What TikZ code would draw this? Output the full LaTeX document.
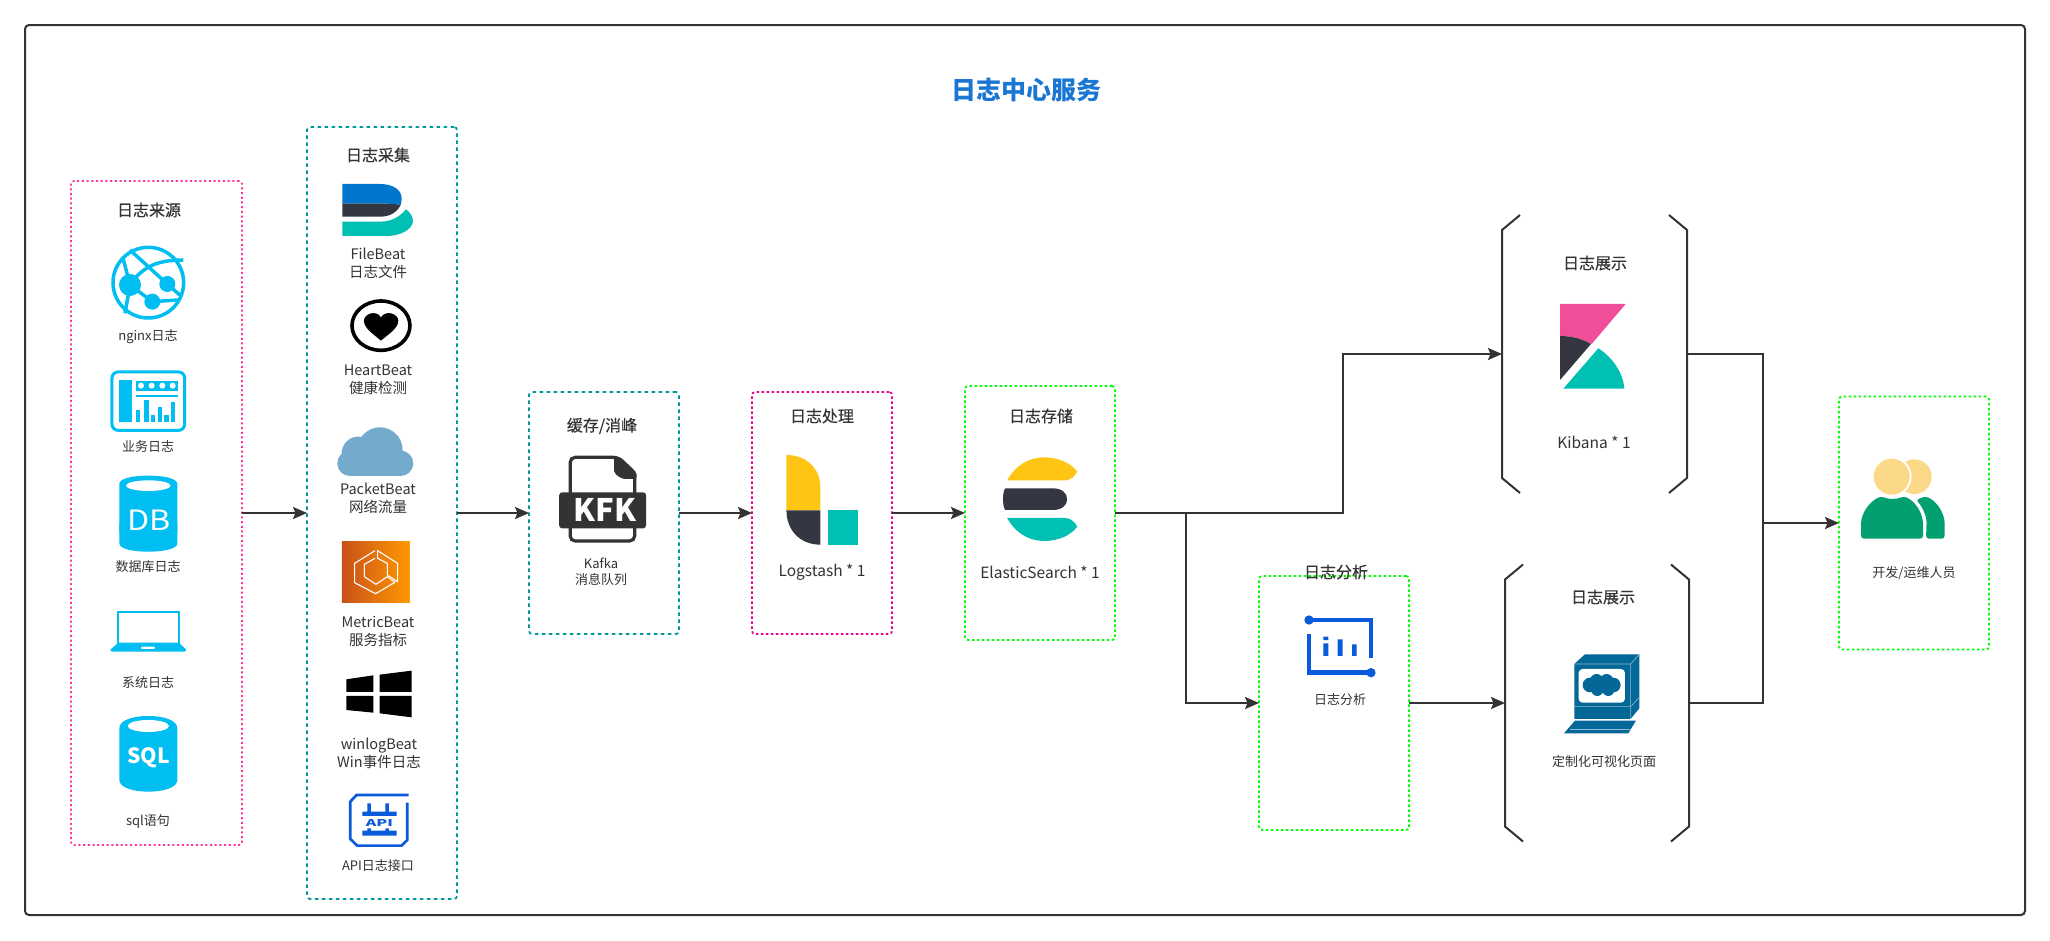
\documentclass[tikz,border=0pt]{standalone}
\usepackage{fontspec}
\setmainfont{Noto Sans CJK SC}
\newfontfamily\headfont[FakeBold=0.35]{Noto Sans CJK SC}
\usepackage{tikz}
\usetikzlibrary{arrows.meta,calc,positioning}
\definecolor{inkgray}{HTML}{333333}
\definecolor{skycyan}{HTML}{00BEF2}
\definecolor{elasticblue}{HTML}{0077CC}
\definecolor{elasticdark}{HTML}{343741}
\definecolor{elasticteal}{HTML}{00BFB3}
\definecolor{elasticyellow}{HTML}{FEC514}
\definecolor{kibanapink}{HTML}{F04E98}
\definecolor{iconblue}{HTML}{0A5BDB}
\definecolor{monitorblue}{HTML}{036897}
\definecolor{userskin}{HTML}{FBD989}
\definecolor{usergreen}{HTML}{029F70}
\definecolor{titleblue}{HTML}{1976D2}
\definecolor{pinkdot}{HTML}{FF3399}
\definecolor{tealdot}{HTML}{009999}
\definecolor{packetblue}{HTML}{74AACC}
\definecolor{metricdark}{HTML}{C8511B}
\definecolor{metriclight}{HTML}{FF9900}

\begin{document}
\begin{tikzpicture}[
    x=1pt,
    y=-1pt,
    >={Stealth[length=14pt,width=12pt,inset=2.5pt]},
    flow/.style={draw=inkgray, line width=2pt, ->},
    edge/.style={draw=inkgray, line width=2pt},
    crop/.style 2 args={shift={(#1,#2)}, x=0.3333pt, y=-0.3333pt},
    logbox/.style={
		rectangle,
		rounded corners=3pt,
		inner sep=0pt,
		outer sep=0pt,
		line width=1.8pt
	},
    pinkbox/.style={logbox, draw=pinkdot, dash pattern=on 2pt off 2.7pt},
    tealbox/.style={logbox, draw=tealdot, dash pattern=on 3.5pt off 3.5pt},
    greenbox/.style={logbox, draw=green, dash pattern=on 2.5pt off 2.5pt},
    magentabox/.style={logbox, draw=magenta, dash pattern=on 2.5pt off 2.5pt},
    shelf/.style={rectangle, inner sep=0pt, outer sep=0pt},
    heading/.style={text=inkgray, inner sep=0pt, font=\headfont\fontsize{16}{20}\selectfont},
    caption/.style={text=inkgray, inner sep=0pt, align=center, font=\fontsize{13}{16}\selectfont},
    beatcaption/.style={text=inkgray, inner sep=0pt, align=center, font=\fontsize{14.5}{18}\selectfont},
    bigcaption/.style={text=inkgray, inner sep=0pt, align=center, font=\fontsize{15.5}{18}\selectfont}
  ]
  \useasboundingbox [fill=white] (0,0) rectangle (2050,940);

    % We start by placing the blocks
  \node [logbox, draw=inkgray, solid, rounded corners=4pt, line width=2pt, minimum width=2000pt, minimum height=890pt] (frame) at (1025,470) {};
  \node [pinkbox, minimum width=171pt, minimum height=664pt] (source) at (156.5,513) {};
  \node [tealbox, minimum width=150pt, minimum height=772pt] (collect) at (382,513) {};
  \node [tealbox, minimum width=150pt, minimum height=242pt] (kafka) at (604,513) {};
  \node [magentabox, minimum width=140pt, minimum height=242pt] (logstash) at (822,513) {};
  \node [greenbox, minimum width=150pt, minimum height=254pt] (elastic) at (1040,513) {};
  \node [greenbox, minimum width=150pt, minimum height=254pt] (analysis) at (1334,703) {};
  \node [greenbox, minimum width=150pt, minimum height=253pt] (devops) at (1914,523) {};
  \node [shelf, minimum width=185pt, minimum height=278pt] (kibana) at (1594.5,354) {};
  \node [shelf, minimum width=184pt, minimum height=277pt] (custom) at (1597,703) {};

  \foreach \shelfname in {kibana,custom} {
    \draw [edge] ($(\shelfname.north west)+(18,0)$) -- ($(\shelfname.north west)+(0,15)$) -- ($(\shelfname.south west)+(0,-15)$) -- ($(\shelfname.south west)+(18,0)$);
    \draw [edge] ($(\shelfname.north east)+(-18,0)$) -- ($(\shelfname.north east)+(0,15)$) -- ($(\shelfname.south east)+(0,-15)$) -- ($(\shelfname.south east)+(-18,0)$);
  }

  % Texts
  \node [text=titleblue, inner sep=0pt, font=\fontsize{25}{28}\selectfont\bfseries] (maintitle) at (1026,90) {日志中心服务};
  \node [heading] (sourcetitle) at (149,210) {日志来源};
  \node [caption] (nginxtext) at (148,337) {nginx日志};
  \node [caption] (biztext) at (148,447) {业务日志};
  \node [caption] (dbtext) at (148,567) {数据库日志};
  \node [caption] (systext) at (148,683) {系统日志};
  \node [caption] (sqltext) at (148,822) {sql语句};
  \node [heading] (collecttitle) at (378,155) {日志采集};
  \node [beatcaption] (filetext) at (378,263) {FileBeat\\日志文件};
  \node [beatcaption] (hearttext) at (378,380) {HeartBeat\\健康检测};
  \node [beatcaption] (packettext) at (378,498) {PacketBeat\\网络流量};
  \node [beatcaption] (metrictext) at (378,631) {MetricBeat\\服务指标};
  \node [beatcaption] (wintext) at (379,753) {winlogBeat\\Win事件日志};
  \node [caption] (apitext) at (378,866) {API日志接口};
  \node [heading] (kafkatitle) at (602,426) {缓存/消峰};
  \node [caption] (kafkatext) at (601,572) {Kafka\\消息队列};
  \node [heading] (logstashtitle) at (822,416) {日志处理};
  \node [bigcaption] (logstashtext) at (822,572) {Logstash * 1};
  \node [heading] (elastictitle) at (1041,416) {日志存储};
  \node [bigcaption] (elastictext) at (1040,572) {ElasticSearch * 1};
  \node [heading] (kibanatitle) at (1595,263) {日志展示};
  \node [bigcaption] (kibanatext) at (1594,442) {Kibana * 1};
  \node [heading] (analysistitle) at (1336,572) {日志分析};
  \node [caption] (analysistext) at (1340,700) {日志分析};
  \node [heading] (customtitle) at (1603,597) {日志展示};
  \node [caption] (customtext) at (1604,762) {定制化可视化页面};
  \node [caption] (devopstext) at (1914,573) {开发/运维人员};

  % Connectors
  \coordinate (bendup) at (1343,354);
  \coordinate (benddown) at (1186,703);
  \coordinate (merge) at (1763,523);
  \draw [flow] (source) -- (collect);
  \draw [flow] (collect) -- (kafka);
  \draw [flow] (kafka) -- (logstash);
  \draw [flow] (logstash) -- (elastic);
  \draw [flow] (elastic.east) -| (bendup) -- (kibana.west);
  \draw [flow] (elastic.east) -| (benddown) -- (analysis.west);
  \draw [flow] (analysis) -- (custom);
  \draw [edge] (kibana.east) -| (merge);
  \draw [edge] (custom.east) -| (merge);
  \draw [flow] (merge) -- (devops.west);

  % Icons, left column
  \begin{scope}[crop={50}{110}]
    \draw [skycyan, line width=3.5pt] (295,518) circle (106);
    \fill [skycyan] (240,525) circle (33) (352,522) circle (24) (307,575) circle (24);
    \draw [skycyan, line width=3.5pt] (240,420) -- (352,522) -- (395,560);
    \draw [skycyan, line width=3.5pt] (240,525) .. controls (280,465) and (330,450) .. (400,450);
    \draw [skycyan, line width=3.5pt] (218,440) -- (240,525) -- (307,575) -- (385,570);
    \draw [skycyan, line width=3.5pt] (240,525) -- (225,610);
    % business panel
    \draw [skycyan, line width=3pt, rounded corners=6pt] (186,786) rectangle (404,961);
    \fill [skycyan] (207,810) rectangle (245,937);
    \fill [skycyan] (258,812) rectangle (383,842);
    \foreach \dotx in {273,305,337,368} {
      \fill [white] (\dotx,827) circle (9);
    }
    \fill [skycyan] (258,855) rectangle (383,861);
    \foreach \barx/\bartop in {258/900,283/870,303/915,323/890,343/915,363/875} {
      \fill [skycyan] (\barx,\bartop) rectangle ++(13,937-\bartop);
    }
    % database
    \fill [skycyan] (208,1122) .. controls (208,1105) and (250,1097) .. (295,1097) .. controls (340,1097) and (382,1105) .. (382,1122) -- (382,1268) -- (208,1268) -- cycle;
    \fill [white] (295,1127) ellipse (67 and 16);
  \end{scope}
  \begin{scope}[crop={50}{520}]
    \fill [skycyan] (208,10) -- (382,10) -- (382,70) .. controls (382,87) and (340,95) .. (295,95) .. controls (250,95) and (208,87) .. (208,70) -- cycle;
    \node [text=white, inner sep=0pt, xscale=1.15, font=\fontsize{28}{32}\selectfont] (dbmark) at (296,0) {DB};
    % laptop
    \draw [skycyan, line width=2pt] (205,372) -- (205,275) -- (387,275) -- (387,372);
    \fill [skycyan, rounded corners=1pt] (205,368) -- (387,368) -- (410,390) -- (405,395) -- (185,395) -- (180,390) -- cycle;
    \fill [white, rounded corners=1pt] (273,380) rectangle (315,387);
    % sql
    \fill [skycyan] (208,625) .. controls (208,600) and (250,588) .. (295,588) .. controls (340,588) and (382,600) .. (382,625) -- (382,780) .. controls (382,803) and (340,815) .. (295,815) .. controls (250,815) and (208,803) .. (208,780) -- cycle;
    \fill [white] (295,618) ellipse (62 and 18);
    \node [text=white, inner sep=0pt, font=\fontsize{21}{24}\selectfont\bfseries] (sqlmark) at (295,712) {SQL};
  \end{scope}

  % Icons, collect column
  \begin{scope}[crop={50}{110}]
    \fill [elasticblue] (877,222) -- (990,222) .. controls (1030,222) and (1055,240) .. (1055,265) .. controls (1055,272) and (1054,280) .. (1052,285) .. controls (1040,282) and (1020,281) .. (1000,281) -- (877,281) -- cycle;
    \fill [elasticdark] (877,281) -- (1000,281) .. controls (1020,281) and (1040,282) .. (1052,285) .. controls (1040,308) and (1020,320) .. (990,320) -- (877,320) -- cycle;
    \fill [elasticteal] (877,335) -- (990,335) .. controls (1025,335) and (1050,320) .. (1068,298) .. controls (1082,308) and (1089,320) .. (1089,335) .. controls (1085,360) and (1050,378) .. (1010,378) -- (877,378) -- cycle;
    % heart
    \draw [black, line width=3.6pt] (993,647) ellipse (87 and 74);
    \fill [black] (993,692) .. controls (970,672) and (942,655) .. (942,632) .. controls (942,612) and (978,598) .. (993,622) .. controls (1008,598) and (1045,612) .. (1045,632) .. controls (1045,655) and (1016,672) .. (993,692) -- cycle;
    % cloud
    \fill [packetblue, rounded corners=2pt] (900,1098) -- (1050,1098) -- (1050,1050) -- (900,1050) -- cycle;
    \fill [packetblue] (990,1020) circle (68) (925,1030) circle (50) (900,1060) circle (38) (1052,1060) circle (38);
  \end{scope}
  \begin{scope}[crop={50}{520}]
    \shade [shading angle=135, left color=metricdark, right color=metriclight] (876,65) rectangle (1080,248);
    \draw [white, line width=1.1pt] (975,92) -- (914,130) -- (914,188) -- (977,221) -- (1035,187);
    \draw [white, line width=1.1pt] (983,92) -- (1043,130) -- (1043,185) -- (1012,165) -- (1012,130) -- (983,115) -- cycle;
    \draw [white, line width=1.1pt] (975,115) -- (943,133) -- (943,170) -- (978,193) -- (1012,170) -- (1035,187);
    % windows
    \fill [black] (889,478) -- (970,466) -- (970,516) -- (889,516) -- cycle;
    \fill [black] (989,464) -- (1085,452) -- (1085,516) -- (989,516) -- cycle;
    \fill [black] (889,528) -- (970,528) -- (970,578) -- (889,570) -- cycle;
    \fill [black] (989,528) -- (1085,528) -- (1085,592) -- (989,580) -- cycle;
    % api
    \draw [iconblue, line width=2.7pt] (1076,825) -- (920,825) -- (901,845) -- (901,957) -- (922,977) -- (1055,977) -- (1072,960) -- (1072,848);
    \fill [iconblue] (952,850) rectangle (963,878) (1006,850) rectangle (1017,878) (937,875) rectangle (1040,888);
    \fill [iconblue] (952,925) rectangle (963,935) (1006,925) rectangle (1017,935) (937,932) rectangle (1040,947);
    \node [text=iconblue, inner sep=0pt, xscale=1.45, yscale=0.85, font=\fontsize{11}{13}\selectfont\bfseries] (apimark) at (988,909) {API};
  \end{scope}

  % Kafka, logstash, elastic
  \begin{scope}[crop={500}{370}, x=0.408pt]
    \draw [inkgray, line width=3.2pt, rounded corners=5pt] (172,370) -- (172,262) -- (290,262) -- (330,308) -- (330,370);
    \draw [inkgray, line width=3.2pt, rounded corners=5pt] (172,470) -- (172,513) -- (330,513) -- (330,470);
    \fill [inkgray, rounded corners=2pt] (280,260) -- (292,260) -- (335,308) -- (335,327) -- (300,327) -- (280,310) -- cycle;
    \fill [inkgray, rounded corners=3pt] (145,367) rectangle (358,475);
    \node [text=white, inner sep=0pt, font=\fontsize{31}{34}\selectfont\bfseries] (kfkmark) at (258,420) {KFK};
    % logstash
    \fill [elasticyellow] (702,255) .. controls (750,255) and (785,295) .. (785,350) -- (785,421) -- (702,421) -- cycle;
    \fill [elasticdark] (702,421) -- (785,421) -- (785,524) .. controls (735,524) and (702,480) .. (702,421) -- cycle;
    \fill [elasticteal] (805,421) rectangle (878,524);
    % elastic
    \fill [elasticyellow] (1243,331) .. controls (1262,288) and (1295,262) .. (1333,262) .. controls (1368,262) and (1398,278) .. (1415,305) .. controls (1408,320) and (1398,331) .. (1385,331) -- cycle;
    \fill [elasticdark] (1238,355) -- (1355,355) .. controls (1378,355) and (1390,370) .. (1390,388) .. controls (1390,405) and (1378,420) .. (1355,420) -- (1238,420) .. controls (1231,405) and (1231,370) .. (1238,355) -- cycle;
    \fill [elasticteal] (1243,444) .. controls (1262,487) and (1295,513) .. (1333,513) .. controls (1368,513) and (1398,497) .. (1415,470) .. controls (1408,455) and (1398,444) .. (1385,444) -- cycle;
  \end{scope}

  % Kibana
  \begin{scope}[crop={1480}{200}]
    \fill [kibanapink] (240,312) -- (437,312) -- (335,432) .. controls (305,415) and (272,408) .. (240,408) -- cycle;
    \fill [elasticdark] (240,408) .. controls (272,408) and (305,415) .. (333,432) -- (240,540) -- cycle;
    \fill [elasticteal] (355,445) .. controls (398,472) and (430,520) .. (433,566) -- (250,566) -- cycle;
  \end{scope}

  % Analysis and monitor
  \begin{scope}[crop={1240}{550}]
    \draw [iconblue, line width=4.4pt] (207,210) -- (393,210) -- (393,325);
    \draw [iconblue, line width=4.4pt] (207,253) -- (207,368) -- (393,368);
    \fill [iconblue] (207,210) circle (14) (393,368) circle (14);
    \fill [iconblue] (250,260) rectangle (265,270) (250,280) rectangle (265,318);
    \fill [iconblue] (293,268) rectangle (308,318) (336,283) rectangle (350,318);
    % monitor
    \fill [monitorblue] (1003,342) -- (1035,313) -- (1198,313) -- (1198,475) -- (1172,507) -- (1003,507) -- cycle;
    \draw [white!55!monitorblue, line width=0.6pt] (1003,342) -- (1172,342) -- (1198,313) (1172,342) -- (1172,507) (1003,470) -- (1172,470) -- (1198,442);
    \fill [white, rounded corners=4pt] (1016,357) rectangle (1155,458);
    \fill [monitorblue] (1085,405) ellipse (50 and 24) (1050,405) circle (22) (1120,405) circle (22) (1070,392) circle (20) (1100,392) circle (20) (1072,420) circle (18) (1105,420) circle (18);
    \fill [monitorblue] (1005,512) -- (1188,512) -- (1165,550) -- (972,550) -- cycle;
    \draw [white!55!monitorblue, line width=0.6pt] (990,538) -- (1170,538);
  \end{scope}

  % Users
  \begin{scope}[crop={1820}{380}]
    \fill [userskin] (283,290) circle (52);
    \fill [usergreen, rounded corners=3pt] (318,476) -- (320,420) .. controls (312,390) and (300,372) .. (288,360) -- (315,349) .. controls (350,362) and (374,400) .. (374,440) -- (374,476) -- cycle;
    \fill [usergreen, rounded corners=3pt] (123,476) -- (123,440) .. controls (123,400) and (150,362) .. (185,349) .. controls (205,358) and (230,358) .. (250,349) .. controls (285,362) and (309,400) .. (309,440) -- (309,476) -- cycle;
    \fill [userskin, draw=white, line width=1.8pt] (215,290) circle (57);
  \end{scope}
\end{tikzpicture}
\end{document}
